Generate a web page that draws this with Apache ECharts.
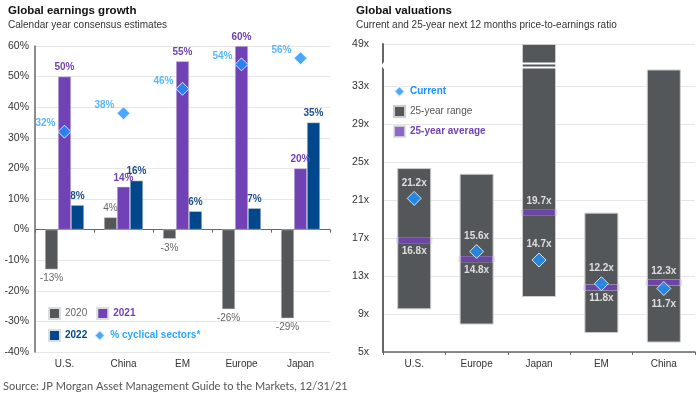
<!DOCTYPE html>
<html>
<head>
<meta charset="utf-8">
<script src="https://cdn.jsdelivr.net/npm/echarts@6/dist/echarts.min.js"></script>
<style>
  html, body { margin: 0; padding: 0; background: #fff; }
  #main { width: 700px; height: 400px; }
</style>
</head>
<body>
<div id="main"></div>
<script>
// left panel: earnings growth, %
const growthRegions = ['U.S.', 'China', 'EM', 'Europe', 'Japan'];
const growth2020 = [-13, 4, -3, -26, -29];
const growth2021 = [50, 14, 55, 60, 20];
const growth2022 = [8, 16, 6, 7, 35];
const cyclicalShare = [32, 38, 46, 54, 56];

// right panel: forward P/E
const peRegions = ['U.S.', 'Europe', 'Japan', 'EM', 'China'];
const rangeLow = [9.5, 7.9, 10.8, 7.0, 6.0];
const rangeHigh = [24.4, 23.8, 49, 19.7, 34.8];
const averagePE = [16.8, 14.8, 19.7, 11.8, 12.3];
const currentPE = [21.2, 15.6, 14.7, 12.2, 11.7];
const peTicks = [5, 9, 13, 17, 21, 25, 29, 33, 49];

const GRAY = '#54575a';
const PURPLE = '#7142b6';
const NAVY = '#00478c';
const BLUE = '#1a91ff';
const LBLUE = '#2ea6ff';
const FONT = 'Liberation Sans';

const myChart = echarts.init(document.getElementById('main'));

const avgLabelPos = ['bottom', 'bottom', 'top', 'bottom', 'top'];
const curLabelPos = ['top', 'top', 'top', 'top', 'bottom'];

const whiteLabel = {
  show: true,
  color: '#fff',
  fontWeight: 'bold',
  fontSize: 10,
  fontFamily: FONT,
  distance: 3,
  formatter: (p) => p.value.toFixed(1) + 'x',
};

myChart.setOption({
  animation: false,
  textStyle: { fontFamily: FONT },
  title: [
    {
      text: 'Global earnings growth',
      subtext: 'Calendar year consensus estimates',
      left: 8, top: 5, padding: 0, itemGap: 3,
      textStyle: { fontSize: 11.5, fontWeight: 'bold', color: '#111' },
      subtextStyle: { fontSize: 10, color: '#333' },
    },
    {
      text: 'Global valuations',
      subtext: 'Current and 25-year next 12 months price-to-earnings ratio',
      left: 356, top: 5, padding: 0, itemGap: 3,
      textStyle: { fontSize: 11.5, fontWeight: 'bold', color: '#111' },
      subtextStyle: { fontSize: 10, color: '#333' },
    },
    {
      text: 'Source: JP Morgan Asset Management Guide to the Markets, 12/31/21',
      left: 3, top: 381, padding: 0,
      textStyle: { fontSize: 11, fontWeight: 'normal', color: '#555', fontFamily: 'Lato' },
    },
  ],
  legend: [
    {
      left: 48, top: 307, padding: 0, itemGap: 9, itemWidth: 11, itemHeight: 11,
      textStyle: { fontSize: 10 },
      data: [
        { name: '2020', icon: 'rect', textStyle: { color: '#666' } },
        { name: '2021', icon: 'rect', textStyle: { color: PURPLE, fontWeight: 'bold' } },
      ],
    },
    {
      left: 48, top: 329, padding: 0, itemGap: 6, itemWidth: 11, itemHeight: 11,
      textStyle: { fontSize: 10 },
      data: [
        { name: '2022', icon: 'rect', textStyle: { color: NAVY, fontWeight: 'bold' } },
        { name: '% cyclical sectors*', icon: 'diamond', textStyle: { color: LBLUE, fontWeight: 'bold' } },
      ],
    },
    {
      left: 393, top: 85, padding: 0, orient: 'vertical', itemGap: 7, itemWidth: 11, itemHeight: 11,
      textStyle: { fontSize: 10 },
      data: [
        { name: 'Current', icon: 'diamond', textStyle: { color: BLUE, fontWeight: 'bold' } },
        { name: '25-year range', icon: 'rect', textStyle: { color: '#555' } },
        { name: '25-year average', icon: 'rect', textStyle: { color: PURPLE, fontWeight: 'bold' } },
      ],
    },
  ],
  grid: [
    { left: 35, top: 46, width: 295, height: 306 },
    { left: 383, top: 44, width: 312, height: 308 },
  ],
  xAxis: [
    {
      type: 'category', gridIndex: 0, data: growthRegions,
      axisLine: { onZero: true, lineStyle: { color: '#666', width: 1 } },
      axisTick: { show: true, length: 3, lineStyle: { color: '#666' } },
      axisLabel: { show: false },
    },
    {
      type: 'category', gridIndex: 1, data: peRegions,
      axisLine: { lineStyle: { color: '#666', width: 1.5 } },
      axisTick: { show: true, length: 3, lineStyle: { color: '#666' } },
      axisLabel: { color: '#333', fontSize: 10, margin: 7 },
    },
    {
      type: 'category', gridIndex: 0, data: growthRegions, position: 'bottom',
      axisLine: { show: false, onZero: false },
      axisTick: { show: false },
      axisLabel: { color: '#333', fontSize: 10, margin: 7 },
    },
  ],
  yAxis: [
    {
      type: 'value', gridIndex: 0, min: -40, max: 60, interval: 10,
      axisLine: { show: true, lineStyle: { color: '#666', width: 1.5 } },
      axisTick: { show: false },
      axisLabel: { color: '#333', fontSize: 10.5, margin: 6, formatter: '{value}%' },
      splitLine: { lineStyle: { color: '#e6e6e6' } },
    },
    {
      type: 'value', gridIndex: 1, min: 5, max: 49, interval: 4,
      breaks: [{ start: 35, end: 47, gap: '1.5%' }],
      breakArea: {
        show: true,
        expandOnClick: false,
        zigzagAmplitude: 0,
        zigzagZ: 100,
        itemStyle: { color: 'rgba(0,0,0,0)', borderColor: '#fff', borderWidth: 2, borderType: 'solid', opacity: 1 },
      },
      axisLine: { show: true, lineStyle: { color: '#666', width: 2 } },
      axisTick: { show: false, customValues: peTicks },
      axisLabel: {
        color: '#333', fontSize: 10.5, margin: 14,
        customValues: peTicks,
        formatter: (v) => v + 'x',
      },
      splitLine: { lineStyle: { color: '#e6e6e6' } },
    },
  ],
  series: [
    {
      name: '2020', type: 'bar', xAxisIndex: 0, yAxisIndex: 0,
      barWidth: 13, barGap: '0%',
      itemStyle: { color: GRAY, borderColor: '#ddd', borderWidth: 0.5 },
      data: growth2020.map((v) => ({
        value: v,
        label: { position: v < 0 ? 'bottom' : 'top' },
      })),
      label: { show: true, fontSize: 10, color: '#666', distance: 4, formatter: '{c}%' },
    },
    {
      name: '2021', type: 'bar', xAxisIndex: 0, yAxisIndex: 0,
      barWidth: 13, barGap: '0%',
      itemStyle: { color: PURPLE, borderColor: '#ddd', borderWidth: 0.5 },
      data: growth2021,
      label: { show: true, position: 'top', fontSize: 10, fontWeight: 'bold', color: PURPLE, distance: 4, formatter: '{c}%' },
    },
    {
      name: '2022', type: 'bar', xAxisIndex: 0, yAxisIndex: 0,
      barWidth: 13, barGap: '0%',
      itemStyle: { color: NAVY, borderColor: '#ddd', borderWidth: 0.5 },
      data: growth2022,
      label: { show: true, position: 'top', fontSize: 10, fontWeight: 'bold', color: '#1d4f8c', distance: 4, formatter: '{c}%' },
    },
    {
      name: '% cyclical sectors*', type: 'scatter', xAxisIndex: 0, yAxisIndex: 0,
      symbol: 'diamond', symbolSize: 13, z: 5,
      itemStyle: { color: BLUE, borderColor: '#fff', borderWidth: 1 },
      data: cyclicalShare,
      label: { show: true, position: 'left', fontSize: 10, fontWeight: 'bold', color: LBLUE, distance: 2, offset: [0, -8], formatter: '{c}%' },
    },
    {
      name: 'base', type: 'bar', xAxisIndex: 1, yAxisIndex: 1,
      stack: 'range', barWidth: 34, silent: true,
      itemStyle: { color: 'transparent' },
      data: rangeLow,
    },
    {
      name: '25-year range', type: 'bar', xAxisIndex: 1, yAxisIndex: 1,
      stack: 'range', barWidth: 34,
      itemStyle: { color: GRAY, borderColor: '#ccc', borderWidth: 1 },
      data: rangeHigh.map((h, i) => +(h - rangeLow[i]).toFixed(2)),
    },
    {
      name: '25-year average', type: 'scatter', xAxisIndex: 1, yAxisIndex: 1,
      symbol: 'rect', symbolSize: [34, 6], z: 4,
      itemStyle: { color: PURPLE, borderColor: '#ddd', borderWidth: 1 },
      data: averagePE.map((v, i) => ({ value: v, label: { position: avgLabelPos[i] } })),
      label: whiteLabel,
    },
    {
      name: 'Current', type: 'scatter', xAxisIndex: 1, yAxisIndex: 1,
      symbol: 'diamond', symbolSize: 14, z: 5,
      itemStyle: { color: BLUE, borderColor: '#fff', borderWidth: 1 },
      data: currentPE.map((v, i) => ({ value: v, label: { position: curLabelPos[i] } })),
      label: whiteLabel,
    },
  ],
});
</script>
</body>
</html>
